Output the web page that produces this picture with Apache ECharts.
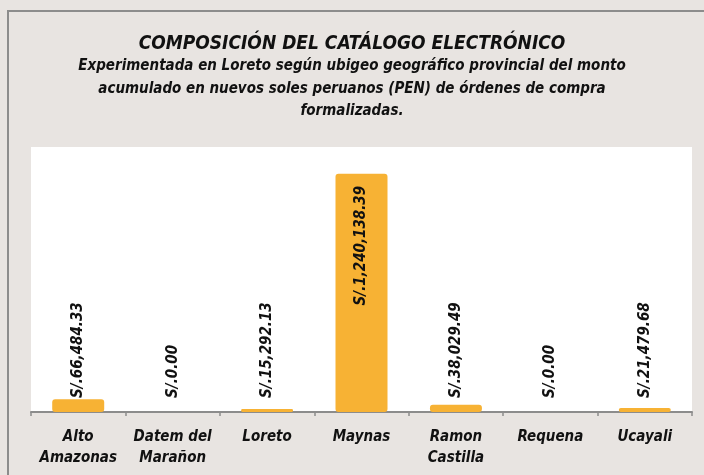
<!DOCTYPE html>
<html>
<head>
<meta charset="utf-8">
<script src="https://cdn.jsdelivr.net/npm/echarts@6/dist/echarts.min.js"></script>
<style>
html,body{margin:0;padding:0;background:#e8e4e1;}
#c{width:704px;height:475px;}
</style>
</head>
<body>
<div id="c"></div>
<script>
const categories = ['Alto\nAmazonas', 'Datem del\nMarañon', 'Loreto', 'Maynas', 'Ramon\nCastilla', 'Requena', 'Ucayali'];
const values = [66484.33, 0.00, 15292.13, 1240138.39, 38029.49, 0.00, 21479.68];
const titleText = 'COMPOSICIÓN DEL CATÁLOGO ELECTRÓNICO';
const subText = 'Experimentada en Loreto según ubigeo geográfico provincial del monto\nacumulado en nuevos soles peruanos (PEN) de órdenes de compra\nformalizadas.';

const FONT = '"Liberation Sans Narrow", "DejaVu Sans Condensed", sans-serif';
const BAR = '#f7b234';

function fmt(v) {
  return 'S/.' + v.toLocaleString('en-US', {minimumFractionDigits: 2, maximumFractionDigits: 2});
}

const maxV = Math.max(...values);
const chart = echarts.init(document.getElementById('c'));
chart.setOption({
  backgroundColor: '#e8e4e1',
  animation: false,
  title: {
    text: titleText,
    subtext: subText,
    left: 'center',
    top: 30,
    itemGap: 1,
    textStyle: {fontFamily: FONT, fontSize: 19, fontWeight: 'bold', fontStyle: 'italic', color: '#111'},
    subtextStyle: {fontFamily: FONT, fontSize: 15, fontWeight: 'bold', fontStyle: 'italic', color: '#111', lineHeight: 22.5, align: 'center'}
  },
  graphic: [{
    type: 'rect', shape: {x: 8, y: 11, width: 720, height: 500},
    style: {fill: 'none', stroke: '#8c8c8c', lineWidth: 2}, silent: true, z: 100
  }],
  grid: {left: 31, right: 12, top: 147, bottom: 63, show: true, backgroundColor: '#ffffff', borderWidth: 0},
  xAxis: {
    type: 'category',
    data: categories,
    axisLine: {lineStyle: {color: '#8c8c8c', width: 2}},
    axisTick: {show: true, length: 4, lineStyle: {color: '#8c8c8c', width: 1.5}},
    axisLabel: {fontFamily: FONT, fontSize: 15, fontWeight: 'bold', fontStyle: 'italic', color: '#111', lineHeight: 21, margin: 15, interval: 0}
  },
  yAxis: {
    type: 'value', min: 0, max: 1380000,
    show: false, splitLine: {show: false}
  },
  series: [{
    type: 'bar',
    data: values.map(v => {
      const item = {value: v};
      if (v === 0) item.itemStyle = {borderWidth: 0, color: 'rgba(0,0,0,0)'};
      if (v === maxV) item.label = {position: 'insideTop', align: 'right', distance: 12};
      return item;
    }),
    barWidth: 52,
    itemStyle: {color: BAR, borderColor: BAR, borderWidth: 2, borderRadius: 2},
    label: {
      show: true,
      position: 'insideBottom',
      distance: 14,
      rotate: 90,
      align: 'left',
      verticalAlign: 'middle',
      formatter: p => fmt(p.value),
      fontFamily: FONT, fontSize: 15, fontWeight: 'bold', fontStyle: 'italic', color: '#111'
    }
  }]
});
</script>
</body>
</html>
